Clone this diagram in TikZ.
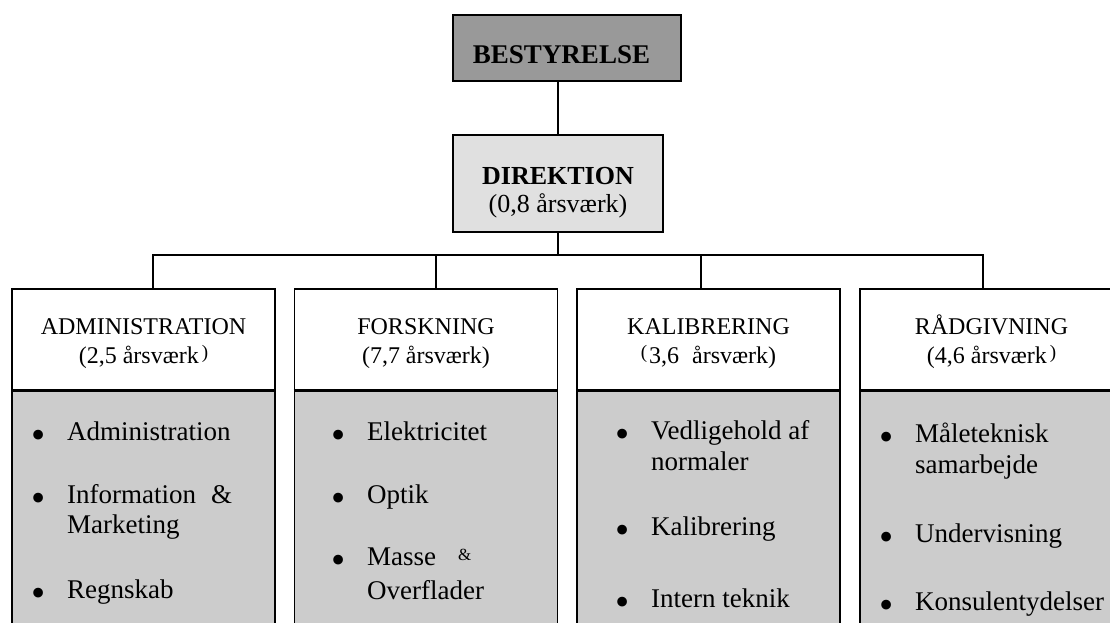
\documentclass[tikz,border=0pt]{standalone}
\usepackage{fontspec}
\setmainfont{Liberation Serif}
\definecolor{boardgray}{HTML}{999999}
\definecolor{dirgray}{HTML}{E0E0E0}
\definecolor{bodygray}{HTML}{CCCCCC}
\newcommand{\bul}{\llap{\raisebox{-8pt}{\scalebox{1.5}{\textbullet}}\hspace{22pt}}}
\newcommand{\smallparen}[1]{\raisebox{5pt}{\fontsize{19}{19}\selectfont #1}}
\begin{document}
\begin{tikzpicture}[x=1pt, y=-1pt,
  top box/.style={draw, line width=1.8pt, rectangle, inner sep=0pt, align=center},
  head box/.style={draw, line width=1.8pt, fill=white, inner sep=0pt, minimum width=263pt, minimum height=101pt, align=center, text height=53pt, text depth=6pt, font=\fontsize{24}{29}\selectfont},
  body box/.style={draw, line width=1.8pt, fill=bodygray, inner sep=0pt, minimum width=263pt, minimum height=250pt},
  item/.style={anchor=base west, inner sep=0pt, align=left, font=\fontsize{27}{31}\selectfont},
  link/.style={line width=1.8pt},
  divider/.style={line width=3pt}]
	\useasboundingbox (0,0) rectangle (1110,623);
	\clip (0,0) rectangle (1110,623);
	% top of the chart
	\node[top box, fill=boardgray, minimum width=228pt, minimum height=66pt, text height=32pt, text depth=0pt, font=\bfseries\fontsize{27}{27}\selectfont] (board) at (567,48) {BESTYRELSE\kern11pt};
	\node[top box, fill=dirgray, minimum width=210pt, minimum height=97pt, text height=63pt, text depth=6pt, font=\fontsize{26}{28}\selectfont] (dir) at (558,183.5) {{\bfseries DIREKTION}\\(0,8 årsværk)};
	% departments
	\node[body box] (admB) at (143.5,515) {};
	\node[body box] (forB) at (426,515) {};
	\node[body box] (kalB) at (708.5,515) {};
	\node[body box] (raadB) at (991.5,515) {};
	\node[head box] (admH) at (143.5,339.5) {ADMINISTRATION\\(2,5 årsværk\hspace{3pt}\smallparen{)}};
	\node[head box] (forH) at (426,339.5) {FORSKNING\\(7,7 årsværk)};
	\node[head box] (kalH) at (708.5,339.5) {KALIBRERING\\\smallparen{(}\hspace{2pt}3,6\hspace{13pt}årsværk)};
	\node[head box] (raadH) at (991.5,339.5) {RÅDGIVNING\\(4,6 årsværk\hspace{3pt}\smallparen{)}};
	\foreach \b in {admH,forH,kalH,raadH}
		\draw[divider] (\b.south west) -- (\b.south east);
	% connectors
	\coordinate (j1) at (153,255);
	\coordinate (j2) at (436,255);
	\coordinate (j3) at (701,255);
	\coordinate (j4) at (983,255);
	\draw[link] (board.south -| dir.north) -- (dir.north);
	\draw[link] (dir.south) -- (dir.south |- j1);
	\draw[link] (admH.north -| j1) -- (j1) -- (j4) -- (raadH.north -| j4);
	\draw[link] (forH.north -| j2) -- (j2);
	\draw[link] (kalH.north -| j3) -- (j3);
	% tasks (multi-line ones sit on their last line)
	\node[item] (a1) at (67,440) {\bul Administration};
	\node[item, font=\fontsize{27}{30}\selectfont] (a2) at (67,533) {\bul Information\hspace{15pt}\&\\Marketing};
	\node[item] (a3) at (67,598) {\bul Regnskab};
	\node[item] (f1) at (367,440) {\bul Elektricitet};
	\node[item] (f2) at (367,503) {\bul Optik};
	\node[item, font=\fontsize{27}{34}\selectfont] (f3) at (367,599) {\bul Masse\hspace{22pt}\raisebox{5pt}{\fontsize{17}{17}\selectfont\&}\\Overflader};
	\node[item] (k1) at (651,470) {\bul Vedligehold af\\normaler};
	\node[item] (k2) at (651,535) {\bul Kalibrering};
	\node[item] (k3) at (651,607) {\bul Intern teknik};
	\node[item] (r1) at (915,473) {\bul Måleteknisk\\samarbejde};
	\node[item] (r2) at (915,542) {\bul Undervisning};
	\node[item] (r3) at (915,610) {\bul Konsulentydelser};
\end{tikzpicture}
\end{document}
